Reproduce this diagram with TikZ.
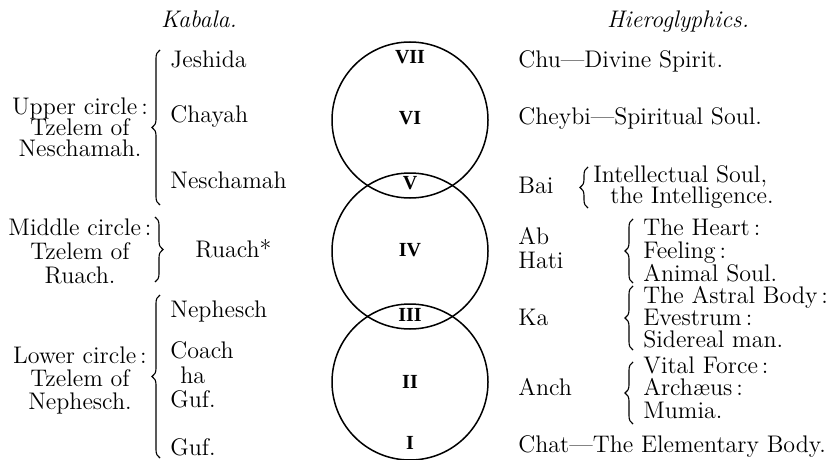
\documentclass[tikz,border=0pt]{standalone}
\usepackage{fontspec}
\usetikzlibrary{decorations.pathreplacing}
\newfontfamily\romfont{Liberation Serif}
\tikzset{
  lbl/.style={inner sep=0pt, anchor=base west, font=\fontsize{12}{13}\selectfont},
  blk/.style={lbl, anchor=base},
  rom/.style={inner sep=0pt, font=\romfont\bfseries\fontsize{10}{10}\selectfont},
  brc/.style={decorate, decoration={brace, amplitude=4pt}, line width=0.55pt},
}
\begin{document}
\begin{tikzpicture}[x=0.5pt, y=-0.5pt]
\useasboundingbox (0,0) rectangle (840,460);
% the three circles
\foreach \y in {120,251,382} \draw[line width=0.75pt] (410,\y) circle (39pt);
\foreach \r/\y in {VII/57, VI/118, V/183, IV/250, III/315, II/382, I/443}
  \node[rom] (r\r) at (410,\y) {\r};
% headings
\node[blk] (kab) at (199,28) {\textit{Kabala.}};
\node[blk] (hie) at (678,28) {\textit{Hieroglyphics.}};
% kabala side
\foreach \t/\y [count=\i] in {Upper circle\,:/114, Tzelem of/135, Neschamah./156,
    Middle circle\,:/235, Tzelem of/259, Ruach./283,
    Lower circle\,:/363, Tzelem of/386, Nephesch./409}
  \node[blk] (c\i) at (80,\y) {\t};
\foreach \t/\x/\y [count=\i] in {Jeshida/170/68, Chayah/170/123, Neschamah/170/188,
    Ruach*/195/257, Nephesch/170/317, Coach/170/358, ha/180/383, Guf./170/407, Guf./170/455}
  \node[lbl] (k\i) at (\x,\y) {\t};
\draw[brc] (160,205) -- (160,50);
\draw[brc] (155,217) -- (155,282);
\draw[brc] (160,458) -- (160,295);
% hieroglyphics side
\foreach \t/\y [count=\i] in {Chu—Divine Spirit./68, Cheybi—Spiritual Soul./125, Bai/193,
    Ab/244, Hati/268, Ka/325, Anch/395, Chat—The Elementary Body./452}
  \node[lbl] (h\i) at (518,\y) {\t};
\node[lbl] (bai1) at (593,182) {Intellectual Soul,};
\node[lbl] (bai2) at (610,203) {the Intelligence.};
\foreach \t/\y [count=\i] in {The Heart\,:/235, Feeling\,:/258, Animal Soul./281,
    The Astral Body\,:/303, Evestrum\,:/325, Sidereal man./347,
    Vital Force\,:/373, Archæus\,:/395, Mumia./418}
  \node[lbl] (e\i) at (643,\y) {\t};
\draw[brc] (588,208) -- (588,167);
\foreach \a/\b in {283/219, 350/286, 424/362}
  \draw[brc] (633,\a) -- (633,\b);
\end{tikzpicture}
\end{document}
